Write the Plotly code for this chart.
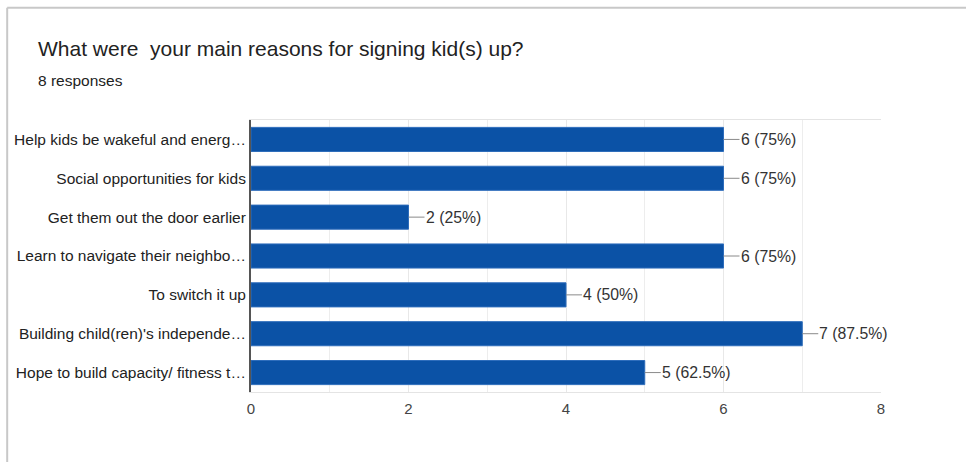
import plotly.graph_objects as go

categories = [
    "Help kids be wakeful and energ…",
    "Social opportunities for kids",
    "Get them out the door earlier",
    "Learn to navigate their neighbo…",
    "To switch it up",
    "Building child(ren)'s independe…",
    "Hope to build capacity/ fitness t…",
]
counts = [6, 6, 2, 6, 4, 7, 5]
percents = ["75%", "75%", "25%", "75%", "50%", "87.5%", "62.5%"]
tick_values = [0, 2, 4, 6, 8]
responses = 8

FONT = "Liberation Sans, Arial, sans-serif"
BLUE = "#0b52a6"

fig = go.Figure(
    go.Bar(
        x=counts,
        y=categories,
        orientation="h",
        marker=dict(color=BLUE, line=dict(color="#2d6cbb", width=1)),
        width=0.62,
        hoverinfo="skip",
    )
)

annotations = []
for c, cat, p in zip(counts, categories, percents):
    annotations.append(dict(
        x=c, y=cat, xref="x", yref="y",
        text=f"{c} ({p})",
        showarrow=True, arrowhead=0, arrowwidth=1, arrowcolor="#8a8a8a",
        ax=16, ay=0, xanchor="left", yanchor="middle",
        standoff=0, startstandoff=0, borderpad=0,
        font=dict(family=FONT, size=15.8, color="#333333"),
    ))

annotations.append(dict(
    xref="paper", yref="paper", x=-0.342, y=1.213, xanchor="left", yanchor="bottom",
    text="What were\u00a0\u00a0your main reasons for signing kid(s) up?",
    showarrow=False, font=dict(family=FONT, size=21, color="#222222"),
))
annotations.append(dict(
    xref="paper", yref="paper", x=-0.342, y=1.105, xanchor="left", yanchor="bottom",
    text=f"{responses} responses",
    showarrow=False, font=dict(family=FONT, size=15.5, color="#222222"),
))

fig.update_layout(
    width=966, height=462,
    margin=dict(l=251, r=85, t=120, b=70),
    paper_bgcolor="white", plot_bgcolor="white",
    showlegend=False,
    annotations=annotations,
    shapes=[
        dict(type="line", xref="paper", yref="paper", x0=-0.387, x1=1.2, y0=1.413, y1=1.413,
             line=dict(color="#c8c8c8", width=2)),
        dict(type="line", xref="paper", yref="paper", x0=-0.387, x1=-0.387, y0=1.413, y1=-0.3,
             line=dict(color="#c8c8c8", width=2)),
    ],
    xaxis=dict(
        range=[0, 8], tickvals=tick_values, ticktext=[str(v) for v in tick_values],
        showgrid=True, gridcolor="#e8e8e8", gridwidth=1,
        minor=dict(dtick=1, showgrid=True, gridcolor="#ededed"),
        showline=True, linecolor="#e4e4e4", mirror=True,
        zeroline=False, ticks="",
        tickfont=dict(family=FONT, size=15, color="#444444"),
        ticklabelstandoff=3, fixedrange=True,
    ),
    yaxis=dict(
        autorange="reversed",
        showline=True, linecolor="#555555", linewidth=2,
        showgrid=False, ticks="",
        tickfont=dict(family=FONT, size=15.5, color="#222222"),
        ticklabelstandoff=0, fixedrange=True,
    ),
    bargap=0.38,
)

fig.write_html("out.html")
